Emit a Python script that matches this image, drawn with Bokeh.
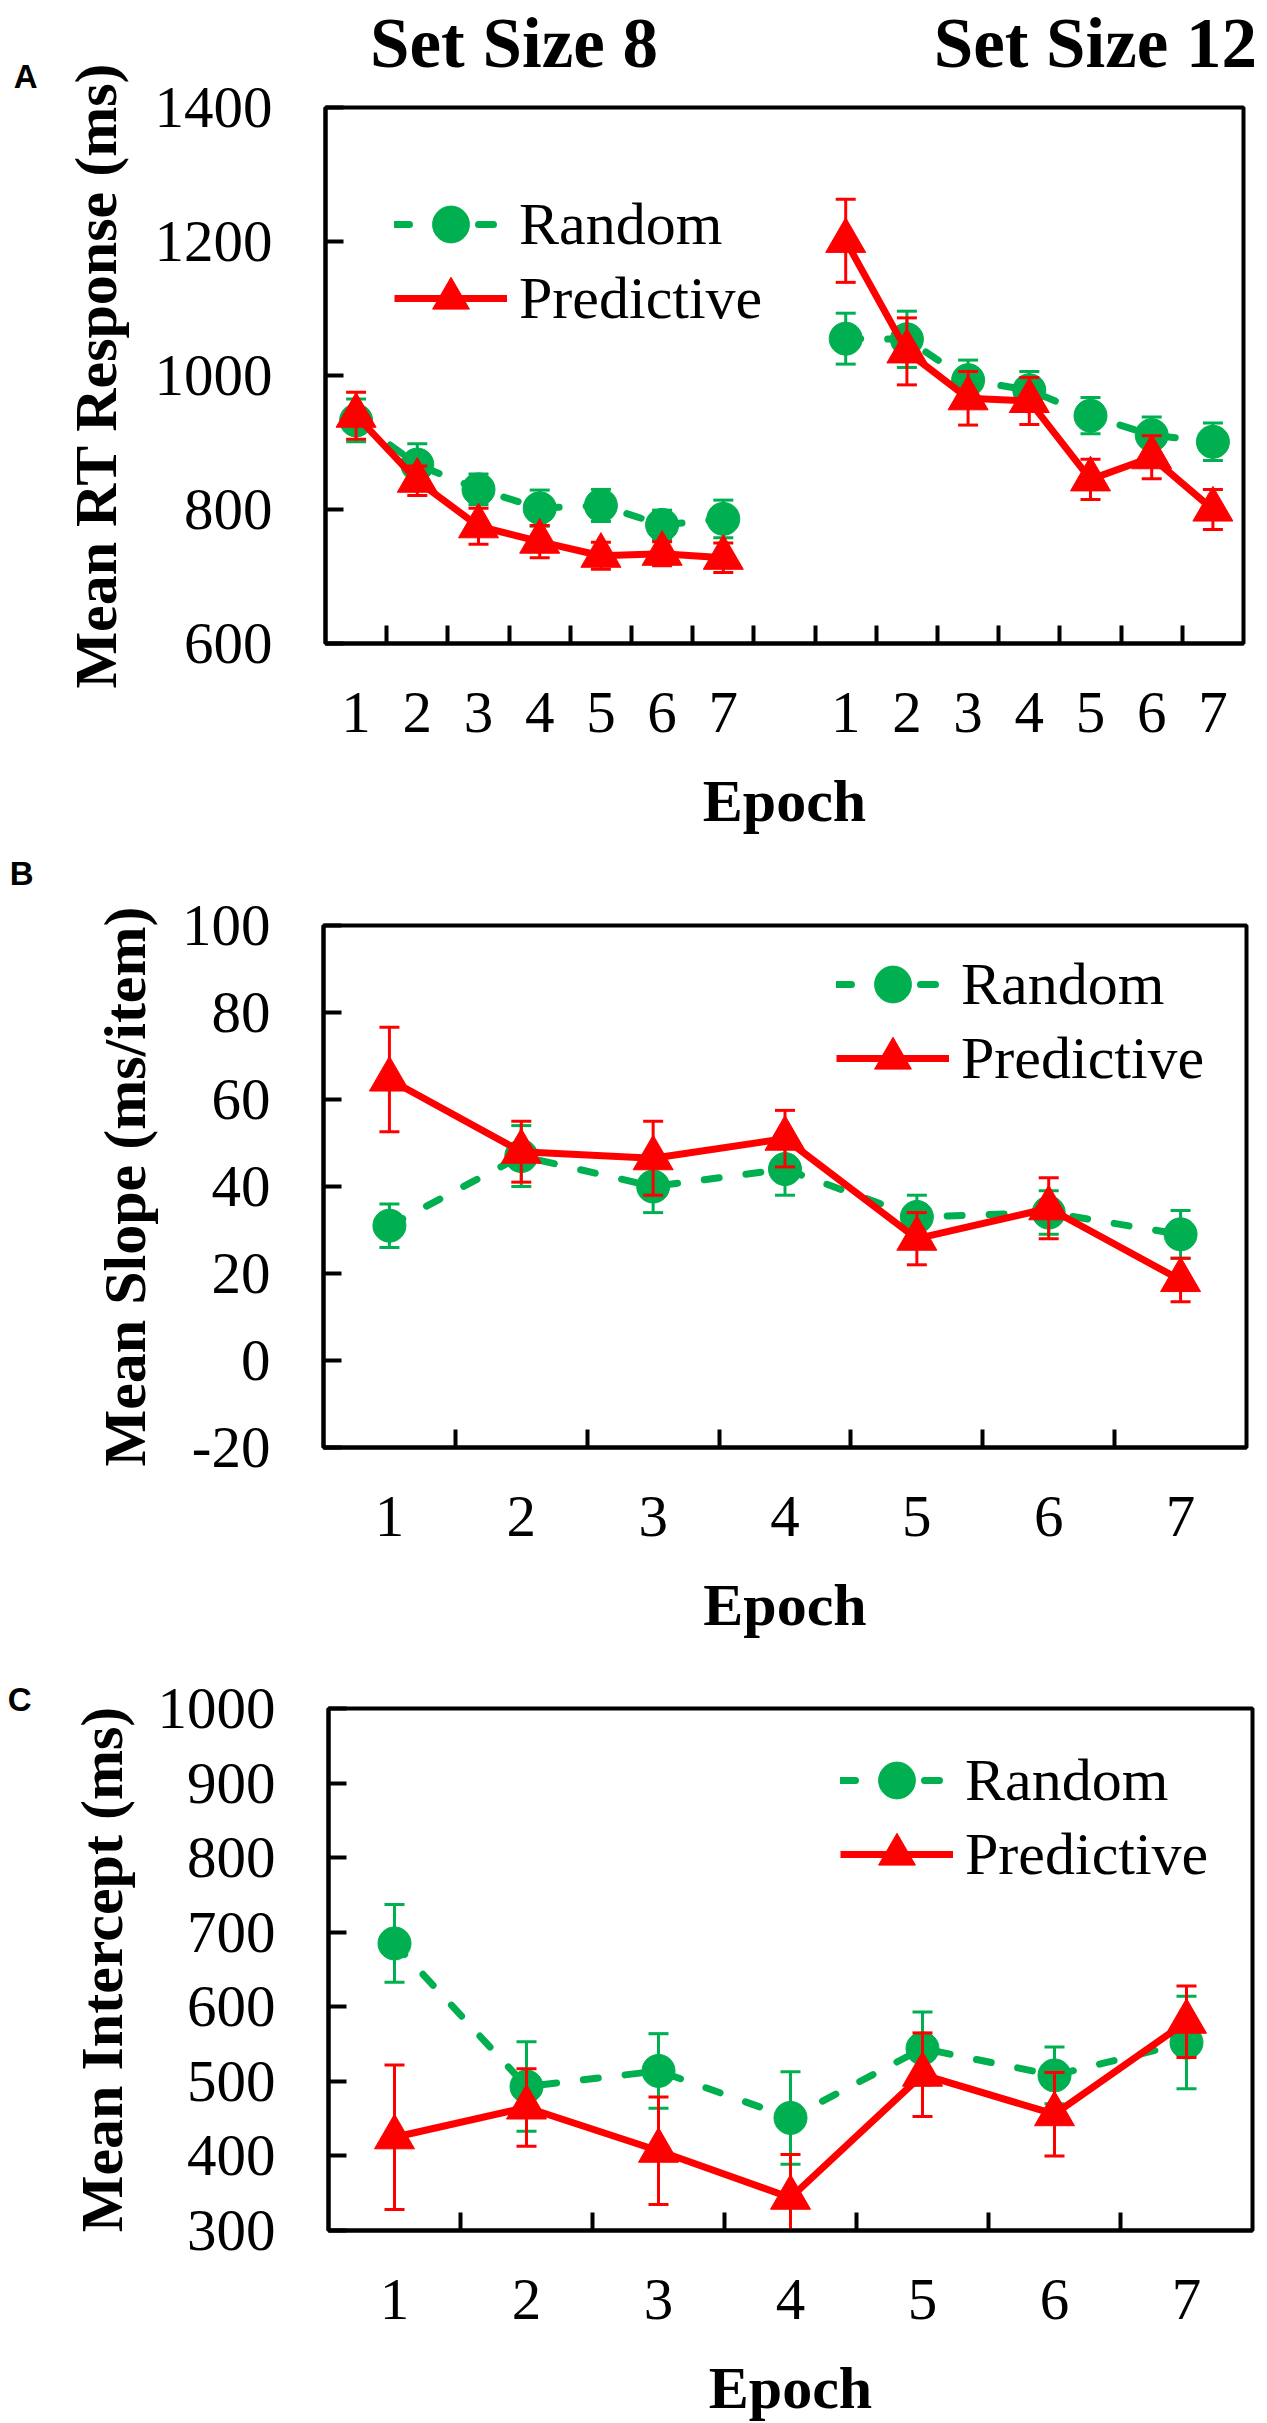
import math
from bokeh.plotting import figure
from bokeh.models import FixedTicker, Legend, LegendItem, LinearAxis, Range1d
from bokeh.layouts import column
from bokeh.embed import file_html
from bokeh.resources import INLINE

# ---------------- data ----------------
epochs = [1, 2, 3, 4, 5, 6, 7]
epoch_labels = ["1", "2", "3", "4", "5", "6", "7"]
series_names = ["Random", "Predictive"]
set_size_titles = ["Set Size 8", "Set Size 12"]
panel_letters = ["A", "B", "C"]

# Panel A: mean RT (ms), set size 8 and set size 12
a_random_ss8 = [933, 867, 830, 802, 806, 777, 786]
a_random_ss8_err = [32, 31, 23, 27, 24, 22, 28]
a_pred_ss8 = [940, 843, 775, 752, 731, 734, 728]
a_pred_ss8_err = [35, 22, 27, 24, 20, 18, 22]
a_random_ss12 = [1055, 1054, 993, 978, 940, 911, 901]
a_random_ss12_err = [38, 42, 30, 28, 27, 27, 28]
a_pred_ss12 = [1201, 1036, 966, 962, 845, 878, 800]
a_pred_ss12_err = [62, 50, 40, 35, 30, 32, 30]
a_yticks = [600, 800, 1000, 1200, 1400]

# Panel B: mean slope (ms/item)
b_random = [31, 47, 40, 44, 33, 34, 29]
b_random_err = [5, 7, 6, 6, 5, 5, 5.5]
b_pred = [64.6, 48, 46.5, 51, 28, 35, 18.5]
b_pred_err = [12, 7, 8.5, 6.5, 6, 7, 5]
b_yticks = [-20, 0, 20, 40, 60, 80, 100]

# Panel C: mean intercept (ms)
c_random = [685, 493, 514, 451, 544, 508, 552]
c_random_err = [52, 60, 50, 62, 49, 38, 62]
c_pred = [425, 465, 407, 344, 509, 456, 580]
c_pred_err = [97, 52, 72, 58, 56, 56, 48]
c_yticks = [300, 400, 500, 600, 700, 800, 900, 1000]

GREEN = "#00B050"
RED = "#FF0000"
SERIF = "Liberation Serif"
W = 1259


def make_fig(height, bl, br, bt, bb, xr, yr):
    p = figure(width=W, height=height, x_range=xr, y_range=yr,
               output_backend="svg", toolbar_location=None,
               min_border_left=bl, min_border_right=br,
               min_border_top=bt, min_border_bottom=bb, title=None)
    p.frame_align = False
    p.grid.visible = False
    p.outline_line_color = "black"
    p.outline_line_width = 4
    p.background_fill_color = "white"
    p.border_fill_color = "white"
    return p


def style_axes(p, xticks, xlabels, bounds, yticks, ylabel, ylab_standoff):
    xa = p.xaxis[0]
    xa.ticker = FixedTicker(ticks=xticks, minor_ticks=bounds)
    xa.major_label_overrides = {t: l for t, l in zip(xticks, xlabels)}
    xa.major_tick_in = 0
    xa.major_tick_out = 0
    xa.major_tick_line_color = None
    xa.minor_tick_in = 18
    xa.minor_tick_out = 0
    xa.minor_tick_line_width = 4
    xa.minor_tick_line_color = "black"
    xa.axis_line_width = 4
    xa.axis_line_color = "black"
    xa.major_label_text_font = SERIF
    xa.major_label_text_font_size = "59px"
    xa.major_label_text_color = "black"
    xa.major_label_standoff = 49
    xa.axis_label = "Epoch"
    xa.axis_label_text_font = SERIF
    xa.axis_label_text_font_style = "bold"
    xa.axis_label_text_font_size = "60px"
    xa.axis_label_text_color = "black"
    xa.axis_label_standoff = 33

    ya = p.yaxis[0]
    ya.ticker = FixedTicker(ticks=yticks)
    ya.major_label_overrides = {t: str(t) for t in yticks}
    ya.major_tick_in = 18
    ya.major_tick_out = 0
    ya.major_tick_line_width = 4
    ya.major_tick_line_color = "black"
    ya.minor_tick_line_color = None
    ya.axis_line_width = 4
    ya.axis_line_color = "black"
    ya.major_label_text_font = SERIF
    ya.major_label_text_font_size = "59px"
    ya.major_label_text_color = "black"
    ya.major_label_standoff = 53
    ya.axis_label = ylabel
    ya.axis_label_text_font = SERIF
    ya.axis_label_text_font_style = "bold"
    ya.axis_label_text_font_size = "60px"
    ya.axis_label_text_color = "black"
    ya.axis_label_standoff = ylab_standoff


def draw_series(p, xs, ys, errs, color, marker, msize, dash):
    lo = [y - e for y, e in zip(ys, errs)]
    hi = [y + e for y, e in zip(ys, errs)]
    p.segment(x0=xs, y0=lo, x1=xs, y1=hi, line_color=color, line_width=3)
    p.scatter(x=xs + xs, y=lo + hi, marker="dash", size=20,
              line_color=color, line_width=3)
    if dash:
        ln = p.line(xs, ys, line_color=color, line_width=7,
                    line_dash="15 27", line_cap="round")
    else:
        ln = p.line(xs, ys, line_color=color, line_width=7, line_join="round")
    sc = p.scatter(xs, ys, marker=marker, size=msize, fill_color=color,
                   line_color=color, line_width=1)
    return ln, sc


def add_legend_row(p, name, rends, vx, vy):
    leg = Legend(items=[LegendItem(label=name, renderers=list(rends))],
                 location=(vx, vy), orientation="vertical",
                 glyph_width=113, glyph_height=92, spacing=0,
                 padding=0, margin=0, label_standoff=12,
                 label_text_font=SERIF, label_text_font_size="60px",
                 label_text_color="black",
                 border_line_color=None, background_fill_alpha=0)
    p.add_layout(leg)


def panel_letter(p, letter, standoff, line_height):
    # panel letter: the label of an extra left axis pinned to the frame top
    p.extra_y_ranges = {"letter": Range1d(0, 1)}
    ax = LinearAxis(y_range_name="letter", ticker=FixedTicker(ticks=[1]),
                    major_label_overrides={1: letter + "\n"},
                    axis_line_color=None, major_tick_line_color=None,
                    minor_tick_line_color=None, major_tick_in=0,
                    major_tick_out=0, major_label_standoff=standoff,
                    major_label_text_font="Liberation Sans",
                    major_label_text_font_style="bold",
                    major_label_text_font_size="33px",
                    major_label_text_line_height=line_height,
                    major_label_text_color="black")
    p.add_layout(ax, "left")


nan = float("nan")

# ---------------- Panel A ----------------
gap = len(epochs) + 1
a_x = epochs + [gap] + [e + gap for e in epochs]
a_xticks = epochs + [e + gap for e in epochs]
a_xlabels = epoch_labels + epoch_labels
a_bounds = [i + 0.5 for i in range(1, len(a_x))]
pa = make_fig(836, 325, 16, 107, 193, (0.5, len(a_x) + 0.5),
              (a_yticks[0], a_yticks[-1]))
style_axes(pa, a_xticks, a_xlabels, a_bounds, a_yticks,
           "Mean RT Response (ms)", 23)
ag = draw_series(pa, a_x, a_random_ss8 + [nan] + a_random_ss12,
                 a_random_ss8_err + [0] + a_random_ss12_err,
                 GREEN, "circle", 33, True)
ap = draw_series(pa, a_x, a_pred_ss8 + [nan] + a_pred_ss12,
                 a_pred_ss8_err + [0] + a_pred_ss12_err,
                 RED, "triangle", 40, False)
add_legend_row(pa, series_names[0], ag, 69, 373)
add_legend_row(pa, series_names[1], ap, 69, 299)
panel_letter(pa, panel_letters[0], 22, 1.7)
# set-size titles: an axis above the frame, centred over each block of epochs
title_pos = [3.58, 13.08]
top_axis = LinearAxis(ticker=FixedTicker(ticks=title_pos),
                      major_label_overrides=dict(zip(title_pos, set_size_titles)),
                      axis_line_color=None, major_tick_line_color=None,
                      minor_tick_line_color=None, major_tick_in=0,
                      major_tick_out=0, major_label_standoff=26,
                      major_label_text_font=SERIF,
                      major_label_text_font_style="bold",
                      major_label_text_font_size="71px",
                      major_label_text_color="black")
pa.add_layout(top_axis, "above")

# ---------------- Panel B ----------------
bounds7 = [e + 0.5 for e in epochs[:-1]]
pb = make_fig(804, 323, 13, 89, 191, (0.5, len(epochs) + 0.5),
              (b_yticks[0], b_yticks[-1]))
style_axes(pb, epochs, epoch_labels, bounds7, b_yticks,
           "Mean Slope (ms/item)", 21)
bg = draw_series(pb, epochs, b_random, b_random_err, GREEN, "circle", 33, True)
bp = draw_series(pb, epochs, b_pred, b_pred_err, RED, "triangle", 40, False)
add_legend_row(pb, series_names[0], bg, 513, 417)
add_legend_row(pb, series_names[1], bp, 513, 343)
panel_letter(pb, panel_letters[1], 55, 2.8)

# ---------------- Panel C ----------------
pc = make_fig(783, 328, 7, 68, 192, (0.5, len(epochs) + 0.5),
              (c_yticks[0], c_yticks[-1]))
style_axes(pc, epochs, epoch_labels, bounds7, c_yticks,
           "Mean Intercept (ms)", 20)
cg = draw_series(pc, epochs, c_random, c_random_err, GREEN, "circle", 33, True)
cp = draw_series(pc, epochs, c_pred, c_pred_err, RED, "triangle", 40, False)
add_legend_row(pc, series_names[0], cg, 512, 404)
add_legend_row(pc, series_names[1], cp, 512, 330)
panel_letter(pc, panel_letters[2], 34, 0.5)

layout = column(pa, pb, pc, spacing=0)
open("out.html", "w").write(file_html(layout, INLINE))
